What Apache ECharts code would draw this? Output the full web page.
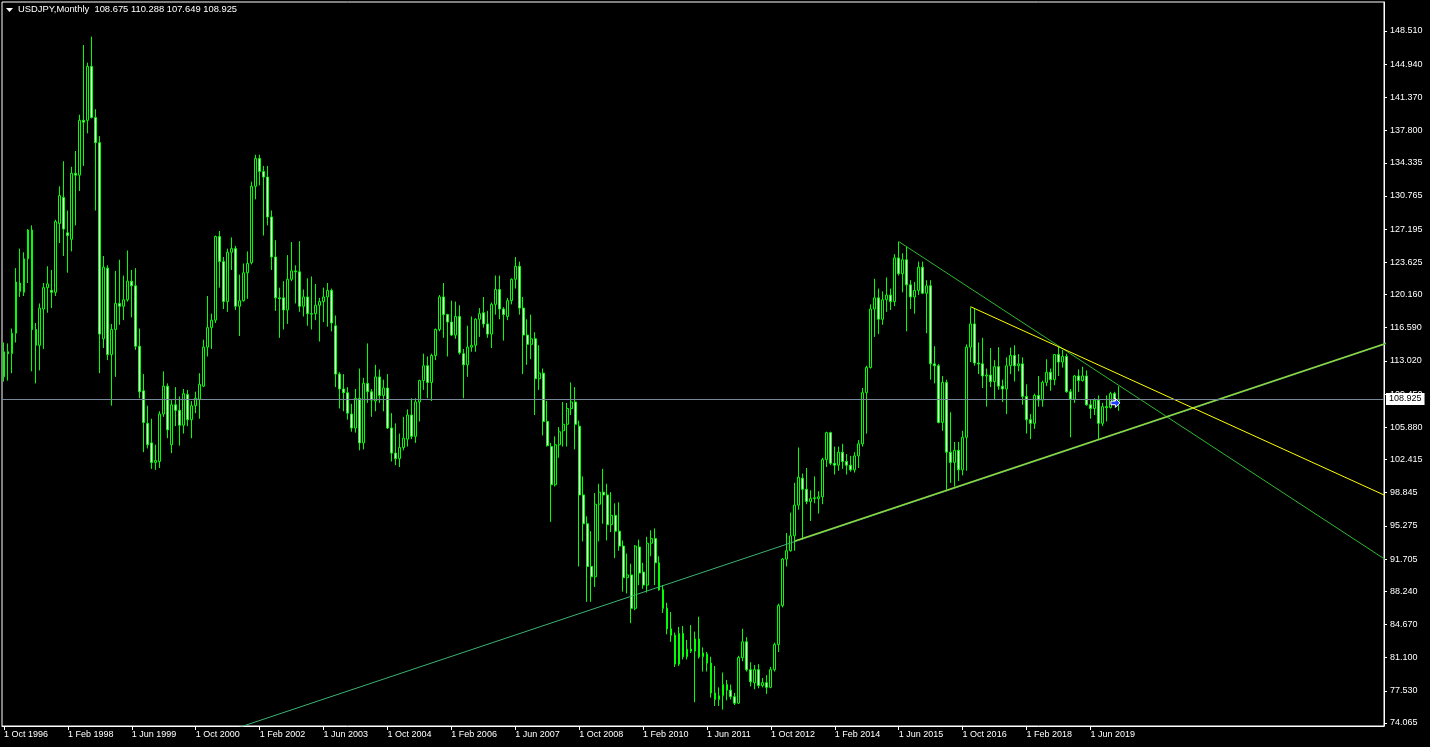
<!DOCTYPE html>
<html>
<head>
<meta charset="utf-8">
<script src="https://cdn.jsdelivr.net/npm/echarts@6/dist/echarts.min.js"></script>
<style>
html,body{margin:0;padding:0;background:#000;}
#chart{width:1430px;height:747px;}
</style>
</head>
<body>
<div id="chart"></div>
<script>
// ---- DATA (USDJPY monthly, Oct 1996 .. Jan 2020) ----
const startYear = 1996, startMonth = 9; // Oct 1996 (0-based month)
const totalSlots = 346;                 // bars + empty future slots on the axis
const monthNames = ['Jan','Feb','Mar','Apr','May','Jun','Jul','Aug','Sep','Oct','Nov','Dec'];

const open = [
111.3,114.0,113.8,116.0,121.4,120.4,124.0,127.1,116.4,114.7,118.6,120.9,120.6,120.4,127.8,
130.6,126.8,126.1,133.2,133.0,138.9,138.9,144.7,139.2,136.5,115.4,123.0,
113.7,116.4,119.2,118.9,119.6,121.6,121.1,114.6,109.8,106.3,104.2,102.1,
102.2,107.3,110.3,104.0,108.3,107.7,106.1,109.4,106.7,108.2,108.9,110.3,
114.5,116.6,117.4,126.4,123.7,119.4,124.7,125.1,118.9,119.5,122.5,123.6,
131.8,134.8,133.4,132.8,128.5,124.2,119.8,119.8,118.5,121.8,122.7,122.6,
118.9,119.9,118.1,118.1,119.0,119.4,119.9,120.6,116.8,111.6,110.0,109.6,
107.3,105.8,109.0,104.2,110.6,109.7,108.7,111.3,109.3,110.1,105.8,103.1,
102.5,103.7,104.6,107.2,104.9,108.6,110.9,112.5,110.7,113.6,116.4,119.9,
118.0,117.2,115.8,117.8,113.8,112.6,114.5,114.7,117.5,118.2,117.0,115.9,
119.1,120.7,118.6,117.8,119.5,121.8,123.2,118.7,115.8,114.8,115.4,111.1,
111.7,106.5,103.8,99.7,104.0,105.5,106.2,107.9,108.6,106.0,98.6,95.5,
90.9,89.8,97.6,98.9,98.6,95.4,96.4,94.7,93.1,89.7,90.0,86.4,
93.0,90.3,88.9,93.4,93.9,91.3,88.4,86.4,84.2,83.5,80.4,83.7,
81.2,82.0,81.8,83.1,81.2,81.5,80.5,77.3,76.6,77.0,78.2,77.6,
76.9,76.2,81.1,82.8,79.8,78.4,79.8,78.1,78.4,77.9,79.8,82.5,
86.7,91.7,92.6,94.2,97.5,100.4,99.2,97.9,98.2,98.2,98.4,102.4,
105.3,102.0,101.8,103.2,102.2,101.8,101.3,102.8,104.1,109.6,112.3,118.6,
119.8,117.5,119.6,120.1,119.4,124.1,122.4,123.9,121.2,119.9,120.6,123.1,
120.3,121.1,112.7,112.5,106.4,110.7,103.2,102.1,103.4,101.3,104.8,114.5,
117.0,112.8,112.7,111.4,111.5,110.8,112.4,110.3,110.0,112.5,113.6,112.5,
112.7,109.2,106.7,106.3,109.3,108.8,110.7,111.8,111.0,113.7,112.9,113.5,
109.7,108.9,111.4,110.9,111.4,108.3,107.9,108.8,106.3,108.1,108.0,109.5,
108.675
];
const high = [
115.0,114.9,116.5,123.0,125.1,124.7,127.2,127.6,117.1,119.2,121.4,123.2,122.8,128.2,131.8,
134.5,129.2,133.9,135.6,139.5,147.0,145.1,147.9,140.1,137.2,124.3,123.3,
117.0,122.7,123.9,122.2,124.9,122.8,123.0,116.5,111.6,108.2,106.8,104.0,
107.6,111.9,110.6,108.8,110.2,109.2,110.0,109.9,108.7,109.7,111.7,115.3,
120.0,118.1,126.5,127.0,124.2,125.1,126.3,125.4,122.3,123.5,124.8,132.3,
135.2,135.2,134.0,134.0,129.2,126.0,120.9,121.6,124.4,125.8,123.3,125.9,
120.7,121.9,122.1,121.3,119.8,120.9,121.4,120.8,117.9,111.8,111.6,110.2,
108.4,110.0,112.2,111.2,114.9,110.0,112.6,112.1,111.0,111.6,107.4,106.3,
105.2,107.0,107.8,109.0,109.0,111.0,113.8,113.5,113.8,116.5,120.1,121.4,
118.1,119.5,119.4,119.0,114.3,116.8,117.8,117.6,118.7,119.9,118.4,119.3,
122.2,122.2,118.8,119.8,121.9,124.2,123.7,119.9,117.5,118.0,116.1,114.7,
112.2,108.7,104.2,104.9,105.9,108.6,108.5,110.7,110.2,106.6,100.6,96.3,
94.7,98.8,99.8,101.4,99.8,98.9,97.7,97.8,93.7,92.3,91.2,93.2,
93.8,91.3,94.1,94.8,95.0,92.0,88.9,87.0,86.0,83.8,84.4,84.5,
83.0,84.6,83.9,85.5,82.2,81.7,81.2,80.2,77.9,79.5,78.7,78.2,
77.3,81.3,84.2,83.3,80.6,80.3,80.4,78.9,79.2,80.1,82.7,86.9,
91.8,94.5,96.7,99.9,103.7,100.9,101.5,99.1,100.6,99.0,102.6,105.4,
105.4,103.8,103.8,104.1,103.0,102.8,103.2,104.5,110.1,112.5,119.1,121.85,
120.8,120.5,122.0,120.8,124.5,125.85,124.6,125.3,121.7,121.5,123.7,123.7,
121.7,121.7,114.6,112.7,111.4,111.0,107.5,104.3,104.3,105.5,114.8,118.8,
118.6,115.0,115.5,112.2,114.4,113.1,114.5,111.0,113.4,114.45,114.7,113.75,
113.4,110.5,107.3,109.5,111.4,110.9,113.2,112.2,113.75,114.55,114.2,113.8,
110.0,111.5,112.1,112.4,112.0,108.8,109.0,109.3,108.5,109.3,109.7,109.7,
110.288
];
const low = [
110.8,110.9,111.7,115.0,119.9,120.0,121.4,111.9,110.6,112.0,114.3,118.2,118.7,120.0,125.7,
124.3,122.5,124.8,127.6,131.3,134.0,137.5,139.1,129.2,111.7,114.4,113.1,
108.2,111.3,116.9,117.4,119.4,117.7,114.2,109.0,103.2,103.6,101.4,101.3,
101.5,107.0,104.7,103.1,106.0,103.9,105.2,106.0,104.7,107.4,106.8,110.2,
113.5,114.3,117.1,120.9,118.6,118.3,122.8,118.5,115.7,119.4,119.7,123.4,
130.4,131.9,126.5,127.6,122.8,118.4,115.5,116.4,117.0,121.6,119.2,118.3,
117.8,116.8,116.4,117.4,115.1,117.2,116.7,116.2,110.2,107.9,107.6,106.7,
105.4,105.3,103.4,103.5,108.5,107.0,107.6,108.5,107.6,105.7,102.2,101.8,
101.6,103.4,103.8,104.6,104.2,106.5,109.9,109.0,108.7,113.1,116.2,115.5,
113.5,115.7,115.4,113.7,109.0,111.3,114.0,114.0,115.6,116.6,115.5,114.4,
118.0,117.5,115.2,117.4,119.1,120.8,118.0,111.6,112.6,113.2,107.2,109.9,
105.0,103.8,95.7,99.5,102.6,103.8,103.8,107.2,103.5,90.9,93.6,87.1,
87.1,88.7,93.6,95.5,93.7,94.6,91.8,92.6,88.2,88.0,84.8,86.2,
88.9,88.5,88.1,92.0,88.9,88.3,85.9,83.6,82.8,80.1,80.2,80.9,
80.9,81.6,76.3,81.0,79.6,79.6,76.8,75.9,75.9,75.5,76.5,76.6,
76.0,76.1,80.7,79.6,78.0,77.7,77.8,77.9,77.2,77.8,79.6,81.7,
86.5,90.9,92.5,92.6,97.0,93.8,97.6,95.8,97.7,96.6,97.6,101.6,
101.8,100.8,101.2,101.4,100.8,101.1,101.0,101.5,103.8,105.2,112.2,115.6,
115.9,116.9,118.3,118.5,118.9,122.2,120.4,116.2,118.6,118.1,120.1,120.2,
116.0,111.0,110.6,106.3,105.5,99.0,99.9,99.5,100.1,100.7,101.2,112.9,
112.5,111.6,110.1,108.1,110.2,108.8,109.9,108.6,107.3,111.6,110.8,111.9,
108.3,105.2,104.6,105.7,108.1,108.1,110.3,109.8,110.4,111.4,112.3,109.6,
104.8,108.5,109.7,110.8,108.2,106.8,107.2,104.5,106.0,106.5,107.9,108.4,
107.649
];
const close = [
114.0,113.8,116.0,121.5,120.5,124.0,127.1,116.4,114.7,118.7,120.9,121.3,120.4,128.0,130.8,
127.2,126.5,133.2,133.0,138.9,138.7,144.7,139.2,136.5,115.9,123.1,113.7,
116.4,119.2,118.9,119.6,121.6,121.1,114.6,109.7,106.4,104.0,102.1,102.3,
107.3,110.3,105.6,108.3,107.7,106.1,109.5,106.7,108.2,109.0,110.5,114.5,
116.6,117.4,126.4,123.7,119.4,124.7,125.1,118.9,119.5,122.5,123.5,131.8,
134.8,133.4,132.8,128.5,124.2,119.8,119.7,118.5,121.8,122.7,122.6,118.9,
119.9,118.1,118.05,119.0,119.4,119.9,120.6,117.1,111.6,110.0,109.6,107.4,
105.8,109.0,104.2,110.6,109.7,108.8,111.3,109.3,110.1,105.8,103.1,102.5,
103.7,104.7,107.2,104.9,108.6,110.9,112.5,110.7,113.6,116.4,119.9,118.0,
117.2,115.8,117.8,113.9,112.6,114.5,114.7,117.5,118.1,117.0,115.9,119.1,
120.7,118.6,118.0,119.5,121.8,123.2,118.7,115.8,114.8,115.4,111.1,111.7,
106.5,103.9,99.7,104.0,105.4,106.2,107.9,108.6,106.2,98.6,95.5,90.9,
89.8,97.6,98.9,98.6,95.4,96.4,94.7,93.1,89.7,90.0,86.4,93.1,
90.2,88.9,93.4,93.9,91.3,88.4,86.4,84.2,83.5,80.4,83.7,81.2,
82.0,81.8,83.1,81.2,81.6,80.5,77.3,76.6,77.0,78.2,77.6,76.9,
76.2,81.1,82.8,79.8,78.5,79.8,78.1,78.4,77.9,79.8,82.5,86.7,
91.7,92.6,94.2,97.5,100.5,99.2,97.9,98.2,98.3,98.4,102.4,105.3,
102.0,101.8,103.2,102.2,101.8,101.3,102.8,104.1,109.6,112.3,118.6,119.8,
117.5,119.6,120.1,119.4,124.1,122.4,123.9,121.2,119.9,120.6,123.1,120.3,
121.1,112.7,112.5,106.4,110.7,103.2,102.1,103.4,101.3,104.8,114.5,117.0,
112.8,112.7,111.4,111.5,110.8,112.4,110.3,110.0,112.5,113.6,112.5,112.7,
109.2,106.7,106.3,109.3,108.8,110.7,111.8,111.0,113.7,112.9,113.5,109.7,
108.9,111.4,110.9,111.4,108.3,107.9,108.8,106.3,108.1,108.0,109.5,108.7,
108.925
];

// price-axis tick labels as printed on the chart
const yTicks = [148.510,144.940,141.370,137.800,134.335,130.765,127.195,123.625,120.160,116.590,
                113.020,109.450,105.880,102.415,98.845,95.275,91.705,88.240,84.670,81.100,77.530,74.065];
const yMin = 73.742, yMax = 151.630;
const bidPrice = 108.925;
const labelStep = 16; // months between date labels

// trend lines: [bar index, price]
const trendAscGreen  = [[50, 72.32], [347, 115.00]];
const trendAscPair   = [[198, 93.64], [347, 115.05]];
const trendDescGreen = [[224, 125.86], [347, 91.32]];
const trendDescYellow= [[242, 118.85], [347, 98.30]];

// ---- BUILD ----
const categories = [];
for (let k = 0; k < totalSlots; k++) {
  const m = (startMonth + k) % 12;
  const y = startYear + Math.floor((startMonth + k) / 12);
  categories.push('1 ' + monthNames[m] + ' ' + y);
}
const lastBar = close.length - 1;
const ohlc = open.map((o, i) => [o, close[i], low[i], high[i]]);
const showLabel = (idx) => idx % labelStep === 0 && idx <= lastBar;
const FONT = 'Liberation Sans';

const chart = echarts.init(document.getElementById('chart'), null, {renderer: 'canvas'});
chart.setOption({
  backgroundColor: '#000',
  animation: false,
  grid: {left: 2, top: 2, right: 46, bottom: 21, show: true, borderColor: '#ffffff', borderWidth: 1, backgroundColor: 'transparent'},
  graphic: [
    {type: 'polygon', left: 6, top: 8, shape: {points: [[0,0],[7,0],[3.5,4]]}, style: {fill: '#ffffff'}},
    {type: 'text', left: 18, top: 5, style: {text: 'USDJPY,Monthly  108.675 110.288 107.649 108.925', fill: '#ffffff', font: '9.4px "Liberation Sans"'}}
  ],
  xAxis: {
    type: 'category', data: categories, boundaryGap: true,
    axisLine: {show: true, lineStyle: {color: '#ffffff', width: 1}},
    axisTick: {show: true, alignWithLabel: true, interval: showLabel, length: 4, lineStyle: {color: '#ffffff'}},
    axisLabel: {show: true, interval: showLabel, align: 'left', color: '#ffffff', fontFamily: FONT, fontSize: 9, margin: 4},
    splitLine: {show: false}
  },
  yAxis: {
    type: 'value', position: 'right', min: yMin, max: yMax, scale: true,
    axisLine: {show: true, lineStyle: {color: '#ffffff', width: 1}},
    axisTick: {show: true, customValues: yTicks, length: 3, lineStyle: {color: '#ffffff'}},
    axisLabel: {show: true, customValues: yTicks, formatter: (v) => Number(v).toFixed(3), color: '#ffffff', fontFamily: FONT, fontSize: 9, margin: 6},
    splitLine: {show: false}
  },
  series: [
    {
      type: 'candlestick', data: ohlc, barWidth: 2.4, z: 2,
      itemStyle: {color: '#000000', color0: '#ffffff', borderColor: '#00ff00', borderColor0: '#00ff00', borderWidth: 1},
      markLine: {
        silent: true, symbol: ['none', 'none'], animation: false,
        lineStyle: {color: '#778899', width: 1, type: 'solid'},
        label: {show: true, position: 'end', formatter: bidPrice.toFixed(3), backgroundColor: '#ffffff', color: '#000000',
                fontFamily: FONT, fontSize: 9, padding: [2, 3, 1, 3], distance: 2},
        data: [{yAxis: bidPrice}]
      },
      markPoint: {
        silent: true, animation: false,
        symbol: 'path://M0,3 L5,3 L5,0 L10,5 L5,10 L5,7 L0,7 Z', symbolSize: [9, 9], symbolOffset: [-3, 0],
        itemStyle: {color: '#1a3cff', borderColor: '#ffffff', borderWidth: 1},
        label: {show: false},
        data: [{coord: [lastBar, 108.5]}]
      }
    },
    {type: 'line', data: trendAscGreen, symbol: 'none', silent: true, z: 3, lineStyle: {color: '#3cb371', width: 1}},
    {type: 'line', data: trendAscPair, symbol: 'none', silent: true, z: 3, lineStyle: {color: '#3cb371', width: 1.8}},
    {type: 'line', data: trendAscPair, symbol: 'none', silent: true, z: 4, lineStyle: {color: '#e6e600', width: 0.7}},
    {type: 'line', data: trendDescGreen, symbol: 'none', silent: true, z: 3, lineStyle: {color: '#2fb82f', width: 1}},
    {type: 'line', data: trendDescYellow, symbol: 'none', silent: true, z: 3, lineStyle: {color: '#ffff00', width: 1}}
  ]
});
</script>
</body>
</html>
